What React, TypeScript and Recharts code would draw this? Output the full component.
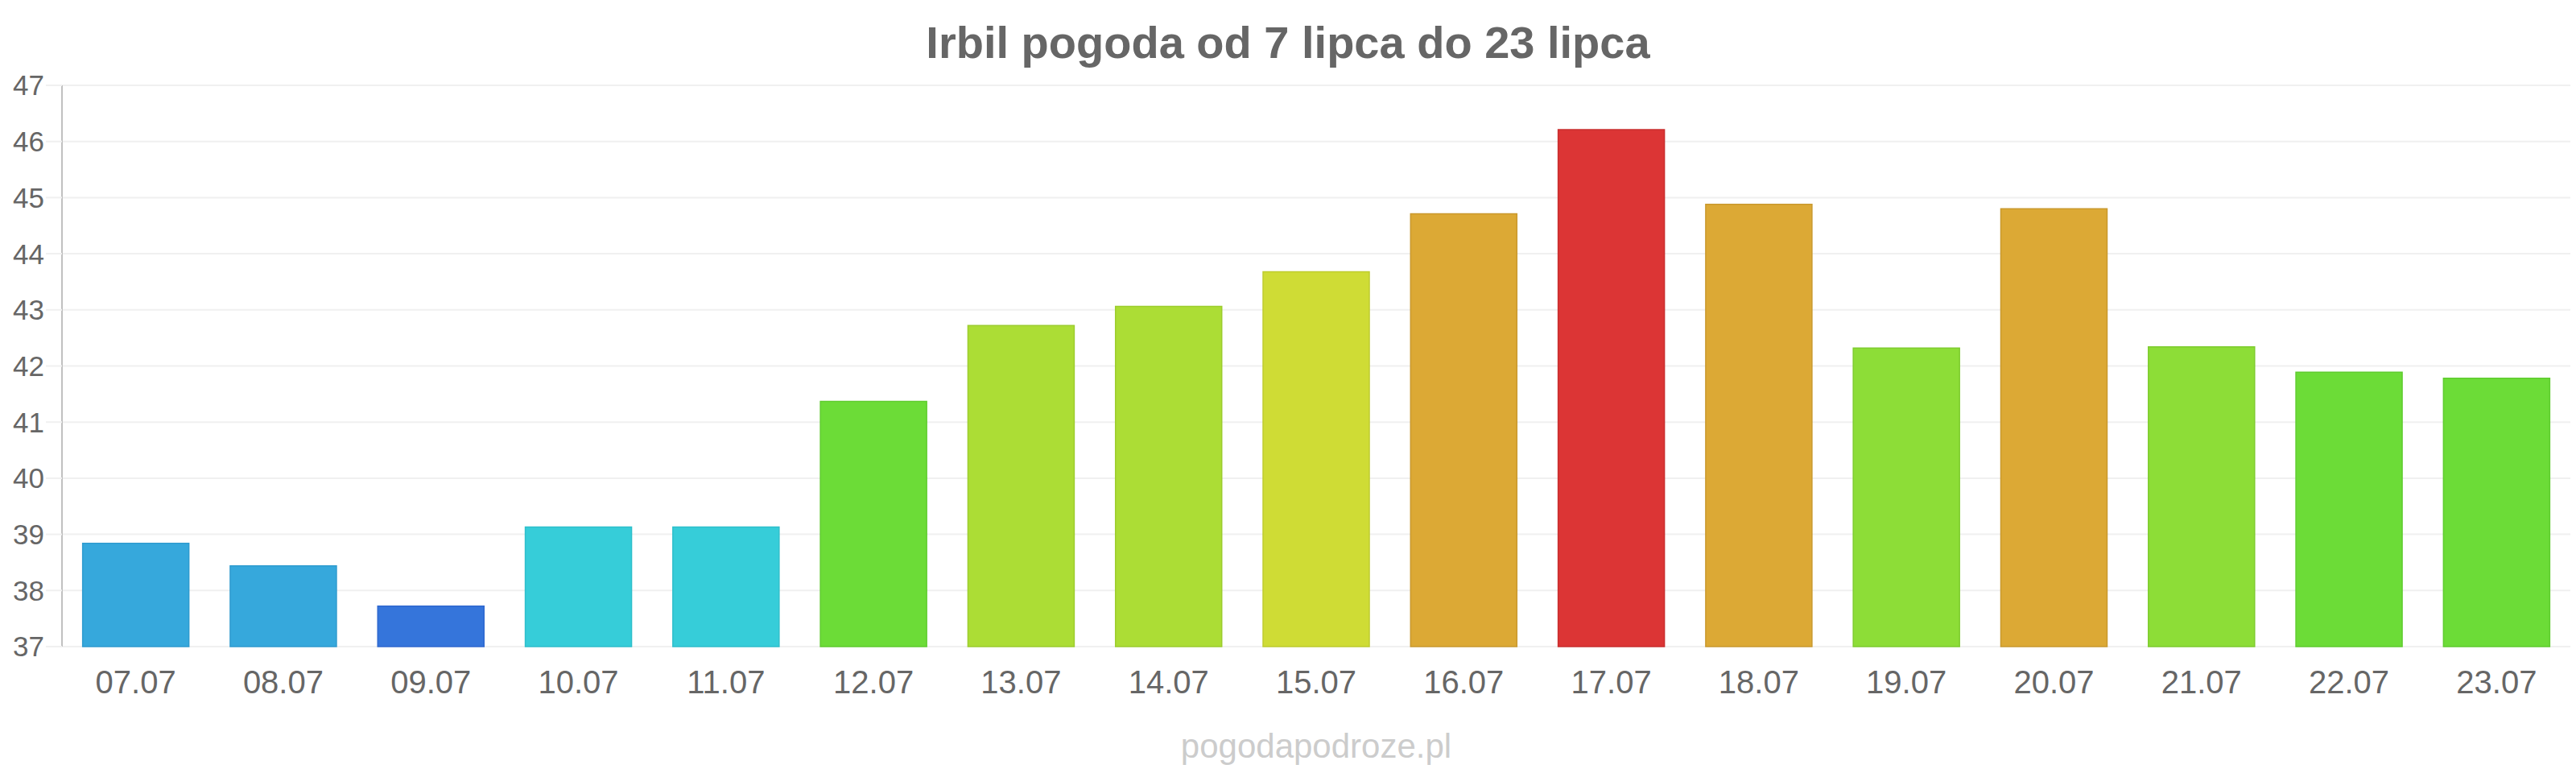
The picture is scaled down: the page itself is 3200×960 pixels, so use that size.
import { BarChart, Bar, Cell, XAxis, YAxis, CartesianGrid } from "recharts";

// daily max temperatures, Irbil, 7-23 July
const days = [
  "07.07", "08.07", "09.07", "10.07", "11.07", "12.07", "13.07", "14.07", "15.07",
  "16.07", "17.07", "18.07", "19.07", "20.07", "21.07", "22.07", "23.07",
];
const temps = [
  38.84, 38.44, 37.72, 39.13, 39.13, 41.37, 42.72, 43.06, 43.68,
  44.71, 46.21, 44.88, 42.32, 44.8, 42.34, 41.89, 41.78,
];
const yTicks = [37, 38, 39, 40, 41, 42, 43, 44, 45, 46, 47];

// colour scale by temperature band
const fills = [
  "#36a8dc", "#36a8dc", "#3575db", "#36cdd9", "#36cdd9", "#6cdc37", "#acdd35", "#acdd35", "#cfdc35",
  "#dca935", "#dc3535", "#dca935", "#8ddd37", "#dca935", "#8ddd37", "#6cdc37", "#6cdc37",
];
const borders = [
  "#2f9bcf", "#2f9bcf", "#2f68cf", "#2fbfcb", "#2fbfcb", "#5fcc2f", "#9ccd2e", "#9ccd2e", "#bfcc2e",
  "#c9992e", "#c92e2e", "#c9992e", "#7ecc2f", "#c9992e", "#7ecc2f", "#5fcc2f", "#5fcc2f",
];

const data = days.map((day, i) => ({ day, temp: temps[i] }));

const font = "'Liberation Sans', Arial, Helvetica, sans-serif";

document.body.style.margin = "0";

export default function App() {
  return (
    <div style={{ position: "relative", width: 3200, height: 960, background: "#fff", fontFamily: font }}>
      <div
        style={{
          position: "absolute",
          top: 25,
          left: 0,
          width: 3200,
          textAlign: "center",
          fontSize: 56,
          lineHeight: "56px",
          fontWeight: "bold",
          color: "#666",
        }}
      >
        Irbil pogoda od 7 lipca do 23 lipca
      </div>
      <BarChart
        width={3200}
        height={960}
        data={data}
        margin={{ top: 106, right: 7, left: 0, bottom: 97 }}
        barCategoryGap="14%"
      >
        <CartesianGrid vertical={false} stroke="#f0f0f0" strokeWidth={2} />
        <XAxis
          dataKey="day"
          height={60}
          axisLine={false}
          tickLine={false}
          tickSize={0}
          tickMargin={30}
          interval={0}
          tick={{ fontSize: 40, fill: "#666", fontFamily: font }}
        />
        <YAxis
          width={77}
          domain={[37, 47]}
          ticks={yTicks}
          interval={0}
          axisLine={{ stroke: "#c0c0c0", strokeWidth: 2 }}
          tickLine={{ stroke: "#f0f0f0", strokeWidth: 2 }}
          tickSize={20}
          tickMargin={2}
          tick={{ fontSize: 35, fill: "#666", fontFamily: font }}
        />
        <Bar dataKey="temp" isAnimationActive={false} strokeWidth={1.5}>
          {data.map((d, i) => (
            <Cell key={d.day} fill={fills[i]} stroke={borders[i]} />
          ))}
        </Bar>
      </BarChart>
      <div
        style={{
          position: "absolute",
          top: 906,
          left: 77,
          width: 3116,
          textAlign: "center",
          fontSize: 42,
          lineHeight: "42px",
          color: "#ccc",
        }}
      >
        pogodapodroze.pl
      </div>
    </div>
  );
}
